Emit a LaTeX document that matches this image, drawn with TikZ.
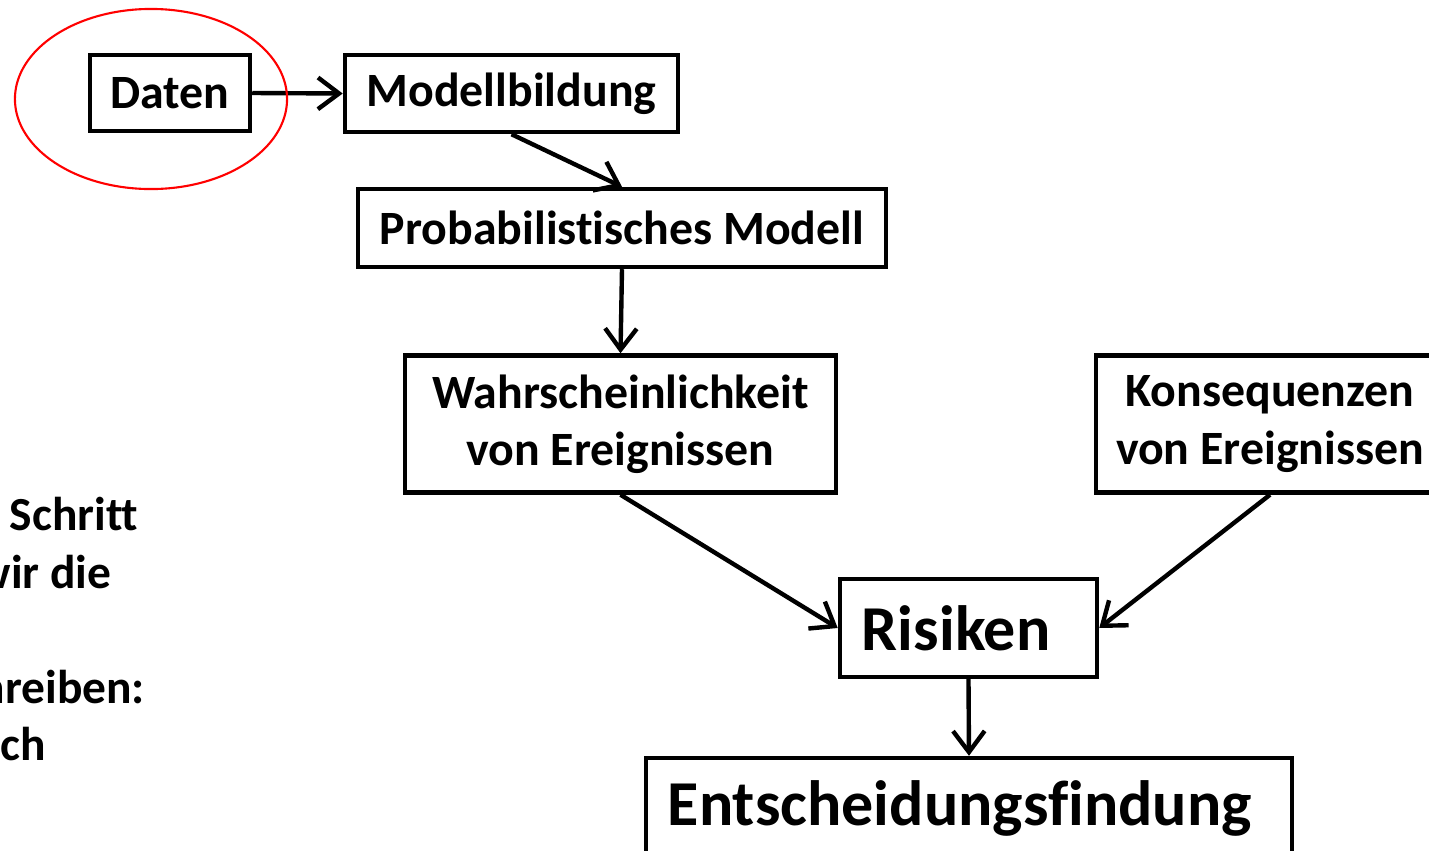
\documentclass[tikz,border=0pt]{standalone}
\usepackage{fontspec}
\setmainfont{Carlito}[Ligatures=NoCommon]
\usetikzlibrary{shapes.geometric}
\usetikzlibrary{arrows.meta}
\tikzset{
	stepnode/.style = {
		draw=black,
		line width=1.25pt,
		inner sep=0pt,
		align=center,
		font=\bfseries\fontsize{13.6}{16.3}\selectfont
	},
	stepnode_big/.style = {
		stepnode,
		align=left,
		inner xsep=0.22cm,
		font=\bfseries\fontsize{18.2}{22}\selectfont
	},
	sidetext/.style = {
		inner sep=0pt,
		anchor=base west,
		font=\bfseries\fontsize{13.5}{16.3}\selectfont
	},
	flow/.style = {
		line width=1.25pt,
		-{Straight Barb[length=6pt,width=9pt,line width=1.25pt]}
	},
}

\begin{document}
\begin{tikzpicture}[x=0.01cm,y=-0.01cm]
\clip (0,0) rectangle (1429,851);
% boxes
\node [stepnode, minimum width=1.60cm, minimum height=0.76cm] (daten) at (170,93) {Daten};
\node [stepnode, minimum width=3.33cm, minimum height=0.77cm] (modell) at (511.5,93.5) {Modellbildung};
\node [stepnode, minimum width=5.28cm, minimum height=0.78cm] (prob) at (622,228) {Probabilistisches Modell};
\node [stepnode, minimum width=4.31cm, minimum height=1.37cm] (wahr) at (620.5,424) {Wahrscheinlichkeit\\von Ereignissen};
\node [stepnode, minimum width=3.48cm, minimum height=1.37cm] (kons) at (1270,424) {Konsequenzen\\von Ereignissen};
\node [stepnode_big, text width=2.13cm, minimum height=0.98cm] (risiken) at (968.5,628) {Risiken};
\node [stepnode_big, text width=6.02cm, minimum height=1.00cm] (entsch) at (969,808) {Entscheidungsfindung};
% connectors
\draw [flow] (daten.east) -- (modell.west);
\draw [flow] (modell.south) -- (prob.north);
\draw [flow] (prob.south) -- (wahr.north);
\draw [flow] (wahr.south) -- (risiken.west);
\draw [flow] (kons.south) -- (risiken.east);
\draw [flow] (risiken.south) -- (entsch.north);
% highlight
\node [ellipse, draw=red, line width=0.6pt, minimum width=2.72cm, minimum height=1.80cm] (mark) at (151,99) {};
% text cut at the left edge
\node [sidetext] (t1) at (9,530) {Schritt};
\node [sidetext] (t2) at (-25,588) {wir die};
\node [sidetext] (t3) at (-21,703) {hreiben:};
\node [sidetext] (t4) at (0,760) {ch};
\end{tikzpicture}
\end{document}
